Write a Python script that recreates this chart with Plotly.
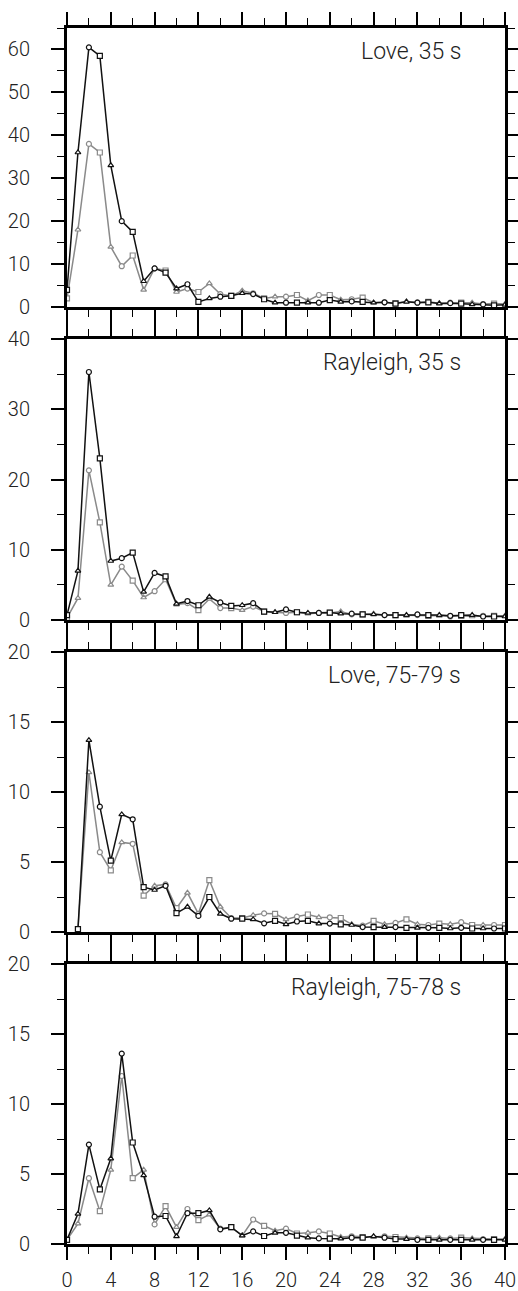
import plotly.graph_objects as go
from plotly.subplots import make_subplots

# ---------------- data ----------------
x_full = list(range(0, 41))
x_love75 = list(range(1, 41))

love35_black = [4, 36, 60.5, 58.5, 33, 20, 17.5, 6, 9, 8, 4.3, 5.3, 1.2, 2.0, 2.4, 2.6, 3.2, 3.0, 1.8, 1.0,
                1.0, 1.0, 1.0, 1.0, 1.6, 1.2, 1.3, 1.2, 1.0, 1.1, 0.8, 1.2, 1.0, 1.1, 0.8, 0.9, 0.8, 0.6, 0.6, 0.4, 0.5]
love35_gray = [2, 18, 38, 36, 14, 9.5, 12, 4, 9, 8.5, 3.5, 4.3, 3.5, 5.5, 3.0, 2.6, 3.8, 3.2, 2.0, 2.4,
               2.4, 2.8, 1.5, 2.8, 2.8, 1.7, 1.8, 2.2, 1.0, 1.1, 0.9, 1.3, 1.1, 1.2, 0.9, 1.0, 1.0, 1.0, 0.7, 0.8, 0.7]

ray35_black = [0.7, 7, 35.3, 23, 8.4, 8.8, 9.6, 4, 6.7, 6.2, 2.3, 2.7, 2.1, 3.3, 2.5, 2.0, 2.1, 2.4, 1.2, 1.1,
               1.5, 1.1, 1.0, 1.0, 1.05, 0.9, 0.9, 0.8, 0.8, 0.7, 0.7, 0.7, 0.8, 0.7, 0.7, 0.6, 0.7, 0.7, 0.5, 0.5, 0.5]
ray35_gray = [0.3, 3.1, 21.3, 13.9, 5.0, 7.6, 5.6, 3.2, 4.1, 5.8, 2.2, 2.4, 1.4, 3.0, 1.7, 1.7, 1.4, 1.9, 1.2, 1.1,
              1.0, 1.1, 0.9, 1.0, 1.0, 1.2, 0.8, 0.8, 0.9, 0.7, 0.7, 0.6, 0.7, 0.6, 0.6, 0.5, 0.6, 0.5, 0.6, 0.6, 0.6]

love75_black = [0.2, 13.7, 8.95, 5.1, 8.4, 8.05, 3.2, 3.0, 3.3, 1.35, 1.8, 1.15, 2.5, 1.3, 0.95, 0.95, 0.9, 0.62, 0.8,
                0.55, 0.75, 0.8, 0.6, 0.6, 0.55, 0.5, 0.35, 0.35, 0.35, 0.35, 0.3, 0.3, 0.3, 0.3, 0.25, 0.3, 0.25, 0.25, 0.25, 0.25]
love75_gray = [0.2, 11.4, 5.7, 4.4, 6.4, 6.3, 2.6, 3.3, 3.4, 1.7, 2.8, 1.3, 3.7, 1.8, 1.0, 1.0, 1.2, 1.33, 1.3,
               0.9, 1.1, 1.25, 1.05, 1.05, 1.0, 0.55, 0.45, 0.8, 0.55, 0.65, 0.9, 0.55, 0.5, 0.6, 0.55, 0.7, 0.5, 0.5, 0.5, 0.5]

ray75_black = [0.3, 2.15, 7.1, 3.9, 6.1, 13.6, 7.25, 4.9, 1.95, 2.0, 0.55, 2.2, 2.2, 2.4, 1.05, 1.2, 0.6, 0.9, 0.57, 0.8,
               0.8, 0.6, 0.45, 0.4, 0.38, 0.38, 0.45, 0.45, 0.55, 0.45, 0.35, 0.35, 0.3, 0.3, 0.3, 0.3, 0.3, 0.3, 0.3, 0.3, 0.3]
ray75_gray = [0.3, 1.45, 4.7, 2.35, 5.3, 12.0, 4.7, 5.3, 1.4, 2.7, 1.2, 2.5, 1.7, 2.1, 1.1, 1.2, 0.6, 1.75, 1.3, 0.95,
              1.1, 0.75, 0.8, 0.9, 0.75, 0.5, 0.55, 0.5, 0.5, 0.55, 0.5, 0.45, 0.4, 0.4, 0.45, 0.4, 0.45, 0.4, 0.35, 0.35, 0.35]

panel_titles = ["Love, 35 s", "Rayleigh, 35 s", "Love, 75-79 s", "Rayleigh, 75-78 s"]
x_tick_vals = list(range(0, 41, 4))
y_ranges = [[0, 65], [0, 40], [0, 20], [0, 20]]
y_dticks = [10, 10, 5, 5]

panels = [
    (x_full, love35_black, love35_gray),
    (x_full, ray35_black, ray35_gray),
    (x_love75, love75_black, love75_gray),
    (x_full, ray75_black, ray75_gray),
]

# ---------------- figure ----------------
W, H = 518, 1291
ML, MR, MT, MB = 67, 13, 28, 47
plot_h = H - MT - MB
panel_px = [(28, 307), (339, 620), (652, 932), (964, 1244)]

fig = make_subplots(rows=4, cols=1)

FONT = "Roboto, Liberation Sans, Arial, sans-serif"
sym_cycle = ["square", "triangle-up", "circle"]

for i, (xs, blk, gry) in enumerate(panels):
    r = i + 1
    syms = [sym_cycle[k % 3] for k in range(len(xs))]
    fig.add_trace(go.Scatter(
        x=xs, y=gry, mode="lines+markers",
        line=dict(color="#8a8a8a", width=1.5),
        marker=dict(symbol=syms, size=5, color="white", line=dict(color="#8a8a8a", width=1.2)),
        showlegend=False, cliponaxis=True), row=r, col=1)
    fig.add_trace(go.Scatter(
        x=xs, y=blk, mode="lines+markers",
        line=dict(color="#111111", width=1.5),
        marker=dict(symbol=syms, size=5, color="white", line=dict(color="#111111", width=1.2)),
        showlegend=False, cliponaxis=True), row=r, col=1)

    top, bot = panel_px[i]
    dom = [(H - MB - bot) / plot_h, (H - MB - top) / plot_h]
    fig.update_yaxes(
        row=r, col=1, domain=dom, range=y_ranges[i], dtick=y_dticks[i], tick0=0,
        showline=True, linecolor="black", linewidth=3, mirror="allticks",
        ticks="outside", ticklen=13, tickwidth=1.6, tickcolor="black",
        minor=dict(dtick=y_dticks[i] / 2, ticks="outside", ticklen=7, tickwidth=1.4, tickcolor="black"),
        showgrid=False, zeroline=False, fixedrange=True, automargin=False,
        tickfont=dict(family=FONT, size=20, color="#222222", weight=300),
        ticklabelstandoff=17,
    )
    fig.update_xaxes(
        row=r, col=1, range=[0, 40], tickvals=x_tick_vals,
        showline=True, linecolor="black", linewidth=3, mirror="allticks",
        ticks="outside", ticklen=13, tickwidth=1.6, tickcolor="black",
        minor=dict(dtick=2, tick0=0, ticks="outside", ticklen=7, tickwidth=1.4, tickcolor="black"),
        showgrid=False, zeroline=False, fixedrange=True, automargin=False,
        showticklabels=(r == 4),
        tickfont=dict(family=FONT, size=20, color="#222222", weight=300),
        ticklabelstandoff=3,
    )
    xref = "x domain" if r == 1 else f"x{r} domain"
    yref = "y domain" if r == 1 else f"y{r} domain"
    fig.add_annotation(
        text=panel_titles[i], xref=xref, yref=yref, x=0.905, y=1 - 23.5 / 280,
        xanchor="right", yanchor="middle", showarrow=False,
        font=dict(family=FONT, size=23, color="#222222", weight=300),
    )

fig.update_layout(
    width=W, height=H,
    margin=dict(l=ML, r=MR, t=MT, b=MB, autoexpand=False),
    paper_bgcolor="white", plot_bgcolor="white",
    showlegend=False,
)

post = (
    "document.documentElement.style.margin='0';"
    "document.documentElement.style.padding='0';"
    "document.documentElement.style.overflow='hidden';"
    "document.body.style.margin='0';"
    "document.body.style.padding='0';"
    "document.body.style.overflow='hidden';"
)
fig.write_html("out.html", config={"displayModeBar": False, "responsive": False}, post_script=post)
